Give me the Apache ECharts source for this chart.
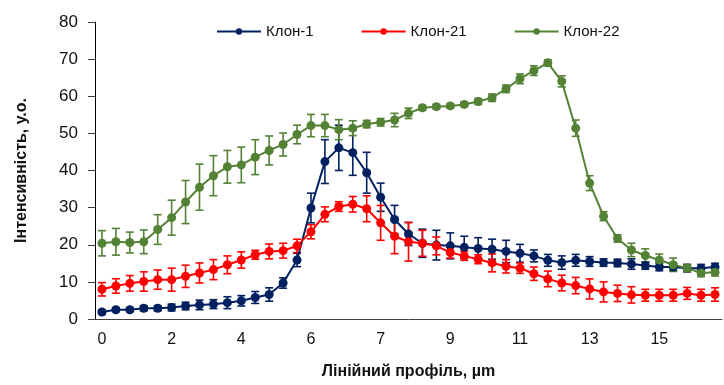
<!DOCTYPE html>
<html><head><meta charset="utf-8">
<script src="https://cdn.jsdelivr.net/npm/echarts@6/dist/echarts.min.js"></script>
<style>html,body{margin:0;padding:0;background:#fff}#c{width:724px;height:385px}</style>
</head><body><div id="c"></div>
<script>
const tickLabels = ['0','2','4','6','7','9','11','13','15'];
const pointsPerLabel = 5;
const categories = Array.from({length: 45}, (_, i) => String(i));

const seriesNames = ['Клон-1', 'Клон-21', 'Клон-22'];
const klon1 = [1.9,2.5,2.5,2.9,2.9,3.1,3.5,3.8,4.0,4.4,4.9,5.8,6.6,9.7,15.9,29.9,42.4,46.1,44.8,39.4,32.8,26.8,22.9,20.4,19.9,19.7,19.3,19.0,18.8,18.2,17.7,17.0,15.8,15.2,15.8,15.5,15.2,15.1,14.8,14.4,14.0,14.0,13.7,13.7,14.0];
const klon1Err = [0.6,0.5,0.5,0.7,0.7,0.9,1.0,1.3,1.2,1.6,1.4,1.6,1.8,1.4,1.8,4.0,5.9,6.1,6.1,5.5,3.8,3.8,3.1,3.8,4.0,3.5,3.0,2.9,2.7,3.0,2.4,1.6,1.6,1.8,1.6,1.3,1.0,1.0,1.4,1.0,1.0,1.0,1.0,1.0,1.0];
const klon21 = [8.0,8.9,9.6,10.1,10.6,10.6,11.5,12.4,13.3,14.6,15.9,17.3,18.2,18.4,19.7,23.5,28.2,30.3,30.9,29.7,25.9,22.3,20.8,20.4,19.7,17.9,17.0,16.1,15.1,14.2,13.7,12.2,10.8,9.7,9.0,8.1,7.3,6.9,6.5,6.4,6.4,6.4,6.9,6.4,6.6];
const klon21Err = [1.8,1.95,2.1,2.6,2.6,3.1,3.0,2.7,2.7,2.4,2.2,1.2,2.0,2.0,1.8,1.9,2.0,1.3,2.1,3.5,4.7,4.7,5.2,3.5,2.4,1.5,1.2,1.2,2.4,1.8,1.4,1.8,2.1,2.1,2.2,2.7,2.7,2.2,2.2,1.6,1.6,1.6,1.6,1.6,1.8];
const klon22 = [20.4,20.8,20.6,20.8,24.1,27.3,31.5,35.5,38.6,41.0,41.5,43.6,45.4,47.0,49.7,52.1,52.1,51.0,51.4,52.5,53.0,53.6,55.4,56.9,57.2,57.4,57.8,58.6,59.6,62.0,64.7,66.9,69.0,64.0,51.4,36.6,27.7,21.7,18.6,17.1,15.9,14.6,13.7,12.4,12.6];
const klon22Err = [3.4,3.6,2.8,3.2,4.0,4.7,5.8,6.2,5.4,4.4,4.8,4.7,3.9,3.1,2.5,3.0,3.0,2.7,2.0,1.0,1.0,1.8,1.4,0.6,0.6,0.6,0.6,0.8,1.0,1.0,1.3,1.3,0.8,1.5,2.2,2.0,1.2,1.0,1.8,1.8,1.6,1.8,1.0,1.0,1.0];
const colors = ['#002060', '#FF0000', '#548235'];

const values = [klon1, klon21, klon22];
const errors = [klon1Err, klon21Err, klon22Err];

function errSeries(vals, errs, color) {
  return {
    type: 'custom',
    silent: true,
    data: vals.map((v, i) => [i, v, errs[i]]),
    renderItem: function (params, api) {
      const i = api.value(0), v = api.value(1), e = api.value(2);
      const top = api.coord([i, v + e]);
      const bot = api.coord([i, v - e]);
      const hw = 4;
      const st = {stroke: color, lineWidth: 1.6};
      return {type: 'group', children: [
        {type: 'line', shape: {x1: top[0], y1: top[1], x2: bot[0], y2: bot[1]}, style: st},
        {type: 'line', shape: {x1: top[0]-hw, y1: top[1], x2: top[0]+hw, y2: top[1]}, style: st},
        {type: 'line', shape: {x1: bot[0]-hw, y1: bot[1], x2: bot[0]+hw, y2: bot[1]}, style: st}
      ]};
    }
  };
}

const series = [];
for (let k = 0; k < 3; k++) {
  series.push(errSeries(values[k], errors[k], colors[k]));
  series.push({
    name: seriesNames[k], type: 'line', data: values[k],
    symbol: 'circle', symbolSize: 9,
    lineStyle: {color: colors[k], width: 2},
    itemStyle: {color: colors[k]},
    animation: false
  });
}

const font = 'Liberation Sans, Arial, sans-serif';
const chart = echarts.init(document.getElementById('c'), null, {renderer: 'canvas'});
chart.setOption({
  animation: false,
  textStyle: {fontFamily: font},
  legend: {
    data: seriesNames, top: 19, left: 211, itemWidth: 44, itemHeight: 8, itemGap: 47,
    textStyle: {fontFamily: font, fontSize: 15, color: '#111'}
  },
  grid: {left: 95, right: 2, top: 22, bottom: 62, containLabel: false},
  xAxis: {
    type: 'category', data: categories, boundaryGap: true,
    name: 'Лінійний профіль, µm', nameLocation: 'middle', nameGap: 45,
    nameTextStyle: {fontFamily: font, fontSize: 16, fontWeight: 'bold', color: '#111'},
    axisLine: {lineStyle: {color: '#404040', width: 1}},
    axisTick: {interval: pointsPerLabel - 1, length: 6, lineStyle: {color: '#404040'}},
    axisLabel: {interval: pointsPerLabel - 1, margin: 13, fontSize: 16, color: '#111', fontFamily: font,
      formatter: (v, idx) => tickLabels[Math.round(idx / pointsPerLabel)]},
    splitLine: {show: false}
  },
  yAxis: {
    type: 'value', min: 0, max: 80, interval: 10,
    name: 'Інтенсивність, у.о.', nameLocation: 'middle', nameGap: 65,
    nameTextStyle: {fontFamily: font, fontSize: 16, fontWeight: 'bold', color: '#111'},
    axisLine: {show: true, lineStyle: {color: '#000', width: 1}},
    axisTick: {show: true, length: 7, lineStyle: {color: '#404040'}},
    axisLabel: {margin: 17, fontSize: 17, color: '#111', fontFamily: font},
    splitLine: {show: false}
  },
  series: series
});
</script></body></html>
